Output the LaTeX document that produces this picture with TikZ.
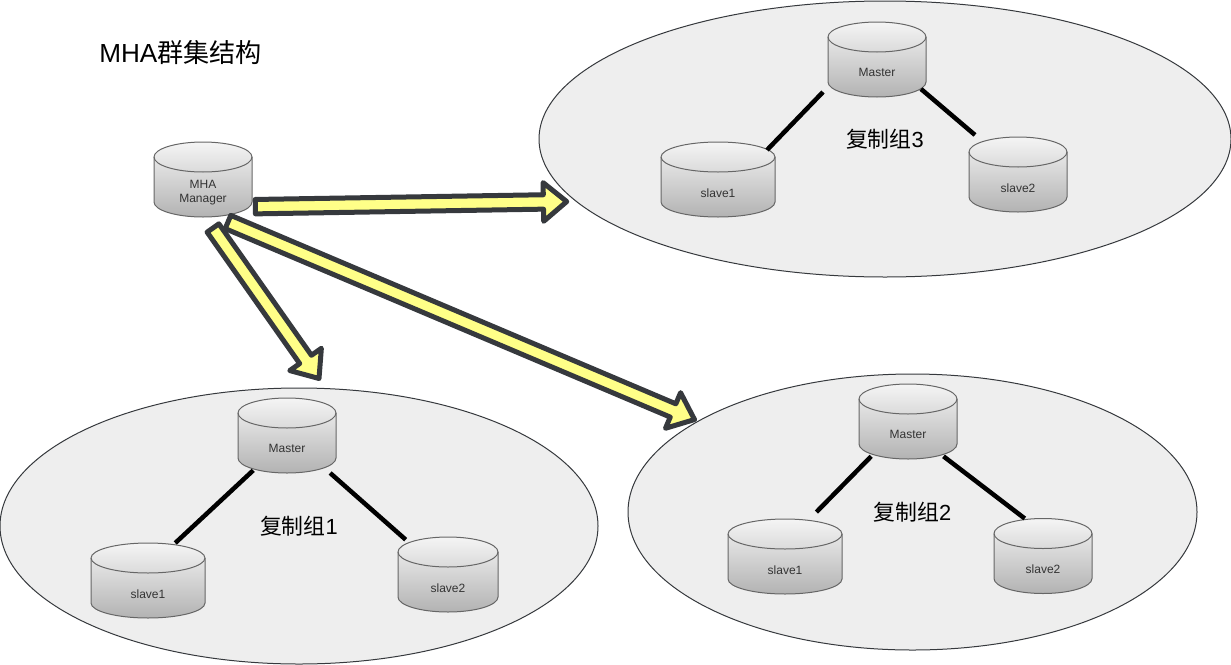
\documentclass[tikz,border=0pt]{standalone}
\usepackage{fontspec}
\setmainfont{Liberation Sans}
\newfontfamily\cjk{Noto Sans CJK SC}
\usetikzlibrary{calc,shapes.geometric}
\definecolor{flexfill}{HTML}{FFFF88}
\definecolor{flexedge}{HTML}{36393D}
\definecolor{groupfill}{HTML}{EEEEEE}
\newcommand{\flexarrow}[2]{
	\coordinate (fa) at #1;
	\coordinate (fb) at #2;
	\coordinate (fc) at ($(fb)!17.5pt!(fa)$);
	\draw[flexline]
	($(fa)!5.4pt!90:(fb)$) -- ($(fc)!5.4pt!90:(fb)$) -- ($(fc)!14.5pt!90:(fb)$) -- (fb)
	-- ($(fc)!14.5pt!-90:(fb)$) -- ($(fc)!5.4pt!-90:(fb)$) -- ($(fa)!5.4pt!-90:(fb)$) -- cycle;
}
\begin{document}
\begin{tikzpicture}
	[x=0.75pt,y=-0.75pt,
	every ellipse node/.style={draw=flexedge,fill=groupfill,line width=0.75pt,inner sep=0pt,font=\fontsize{16.4}{19}\selectfont},
	dbbody/.style={draw=black!60,line width=0.75pt,top color=black!4,bottom color=black!30},
	dbnode/.style={inner sep=0pt,outer sep=0pt,minimum height=56.25pt},
	dbtext/.style={font=\fontsize{9}{10.5}\selectfont,text=black!80,align=center,inner sep=0pt,yshift=-10pt},
	dbline/.style={line width=3.4pt},
	flexline/.style={draw=flexedge,fill=flexfill,line width=3.75pt,line join=round}]
	\useasboundingbox (0,0) rectangle (1231,664);
	\node[ellipse,minimum width=448.5pt,minimum height=207pt] (group1) at (299,526) {\cjk 复制组\rmfamily 1};
	\node[ellipse,minimum width=426.75pt,minimum height=207pt] (group2) at (912.5,512) {\cjk 复制组\rmfamily 2};
	\node[ellipse,minimum width=519pt,minimum height=207pt] (group3) at (885,139) {\cjk 复制组\rmfamily 3};
	\node[anchor=west,font=\fontsize{19.6}{23}\selectfont,inner sep=0pt] (title) at (99,53) {MHA\cjk 群集结构};
	\foreach \nm/\cx/\cy/\cw/\txt in {
		manager/203/179.5/98/{MHA\\Manager},
		master1/287/435.5/98/Master, slavea1/148/580.5/114/slave1, slaveb1/448/574.5/100/slave2,
		master2/908/421.5/98/Master, slavea2/785/556.5/114/slave1, slaveb2/1043/556/98/slave2,
		master3/877/59.5/98/Master, slavea3/718/179.5/114/slave1, slaveb3/1018/174.5/98/slave2} {
		\path[dbbody] (\cx-\cw/2,\cy-22.5) arc[start angle=180,end angle=0,x radius=\cw*0.375pt,y radius=11.25pt]
		-- ++(0,45) arc[start angle=0,end angle=-180,x radius=\cw*0.375pt,y radius=11.25pt] -- cycle;
		\draw[draw=black!60,line width=0.75pt] (\cx-\cw/2,\cy-22.5) arc[start angle=180,end angle=360,x radius=\cw*0.375pt,y radius=11.25pt];
		\node[dbnode,minimum width=\cw*0.75pt,label={[dbtext]center:\txt}] (\nm) at (\cx,\cy) {};
	}
	\draw[dbline] ([yshift=2pt]master1.-132) -- (slavea1.54);
	\draw[dbline] (master1.-41) -- ([xshift=3pt,yshift=-2pt]slaveb1.141);
	\draw[dbline] ([xshift=1.5pt,yshift=2pt]master2.-136) -- ([yshift=5.25pt]slavea2.50);
	\draw[dbline] ([xshift=-1.5pt,yshift=2pt]master2.-45) -- (slaveb2.116);
	\draw[dbline] ([xshift=-3.75pt,yshift=3.75pt]master3.south west) -- ([xshift=-6pt,yshift=-6pt]slavea3.north east);
	\draw[dbline] ([xshift=-3.75pt,yshift=6pt]master3.south east) -- ([xshift=4.5pt,yshift=1.5pt]slaveb3.north west);
	\flexarrow{([xshift=2.5pt]manager.-29)}{([xshift=-5pt,yshift=-1.5pt]group3.191)}
	\flexarrow{([xshift=7.5pt,yshift=-8.25pt]manager.south)}{([xshift=15pt,yshift=6.75pt]group1.north)}
	\flexarrow{([xshift=18.75pt,yshift=-3.75pt]manager.south)}{([xshift=-2.5pt,yshift=1pt]group2.157)}
\end{tikzpicture}
\end{document}
